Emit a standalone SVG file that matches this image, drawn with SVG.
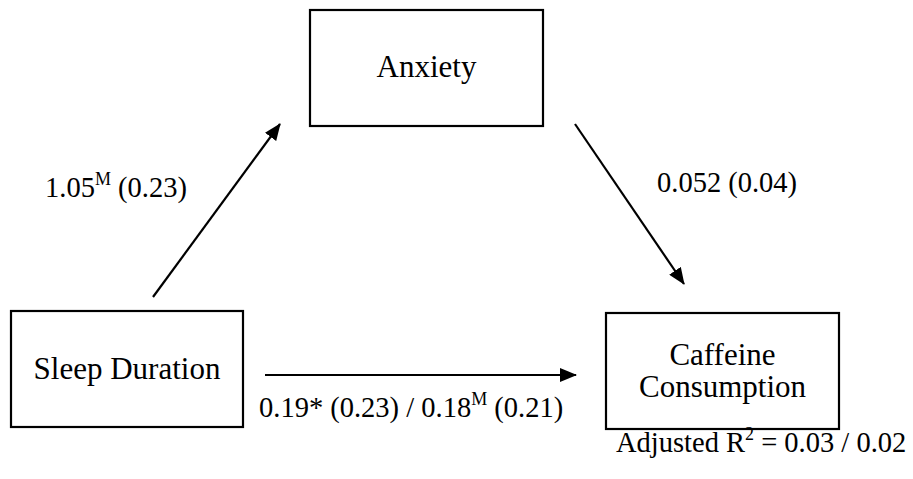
<svg xmlns="http://www.w3.org/2000/svg" width="913" height="479" viewBox="0 0 913 479">
<style>
.box{fill:#fff;stroke:#000;stroke-width:2.2}
.nt{font-family:"Liberation Serif","Times New Roman",serif;font-size:31px;fill:#000;text-anchor:middle}
.lb{font-family:"Liberation Serif","Times New Roman",serif;font-size:28.5px;fill:#000}
.sup{font-size:18px}
.edge{stroke:#000;stroke-width:2.2;fill:none;marker-end:url(#ah)}
</style>
<defs>
<marker id="ah" viewBox="0 0 17 14" refX="16" refY="7" markerWidth="17" markerHeight="14" markerUnits="userSpaceOnUse" orient="auto">
<path d="M0,0 L17,7 L0,14 z" fill="#000"/>
</marker>
</defs>
<rect width="913" height="479" fill="#fff"/>
<g id="anxiety">
<rect class="box" x="310" y="10" width="233" height="116"/>
<text class="nt" x="426.5" y="77">Anxiety</text>
</g>
<g id="sleep">
<rect class="box" x="11" y="311" width="232" height="116"/>
<text class="nt" x="127" y="379">Sleep Duration</text>
</g>
<g id="caffeine">
<rect class="box" x="606" y="313" width="233" height="116"/>
<text class="nt" x="722.5" y="365">Caffeine</text>
<text class="nt" x="722.5" y="397">Consumption</text>
</g>
<g id="connectors">
<line class="edge" x1="153" y1="297" x2="280" y2="124"/>
<line class="edge" x1="575" y1="124" x2="684" y2="284"/>
<line class="edge" x1="265" y1="375" x2="576" y2="375"/>
</g>
<g id="labels">
<text class="lb" x="45" y="197">1.05<tspan class="sup" dy="-12">M</tspan><tspan dy="12"> (0.23)</tspan></text>
<text class="lb" x="657" y="192">0.052 (0.04)</text>
<text class="lb" x="259" y="417">0.19* (0.23) / 0.18<tspan class="sup" dy="-12">M</tspan><tspan dy="12"> (0.21)</tspan></text>
<text class="lb" x="616" y="452">Adjusted R<tspan class="sup" dy="-12">2</tspan><tspan dy="12"> = 0.03 / 0.02</tspan></text>
</g>
</svg>
